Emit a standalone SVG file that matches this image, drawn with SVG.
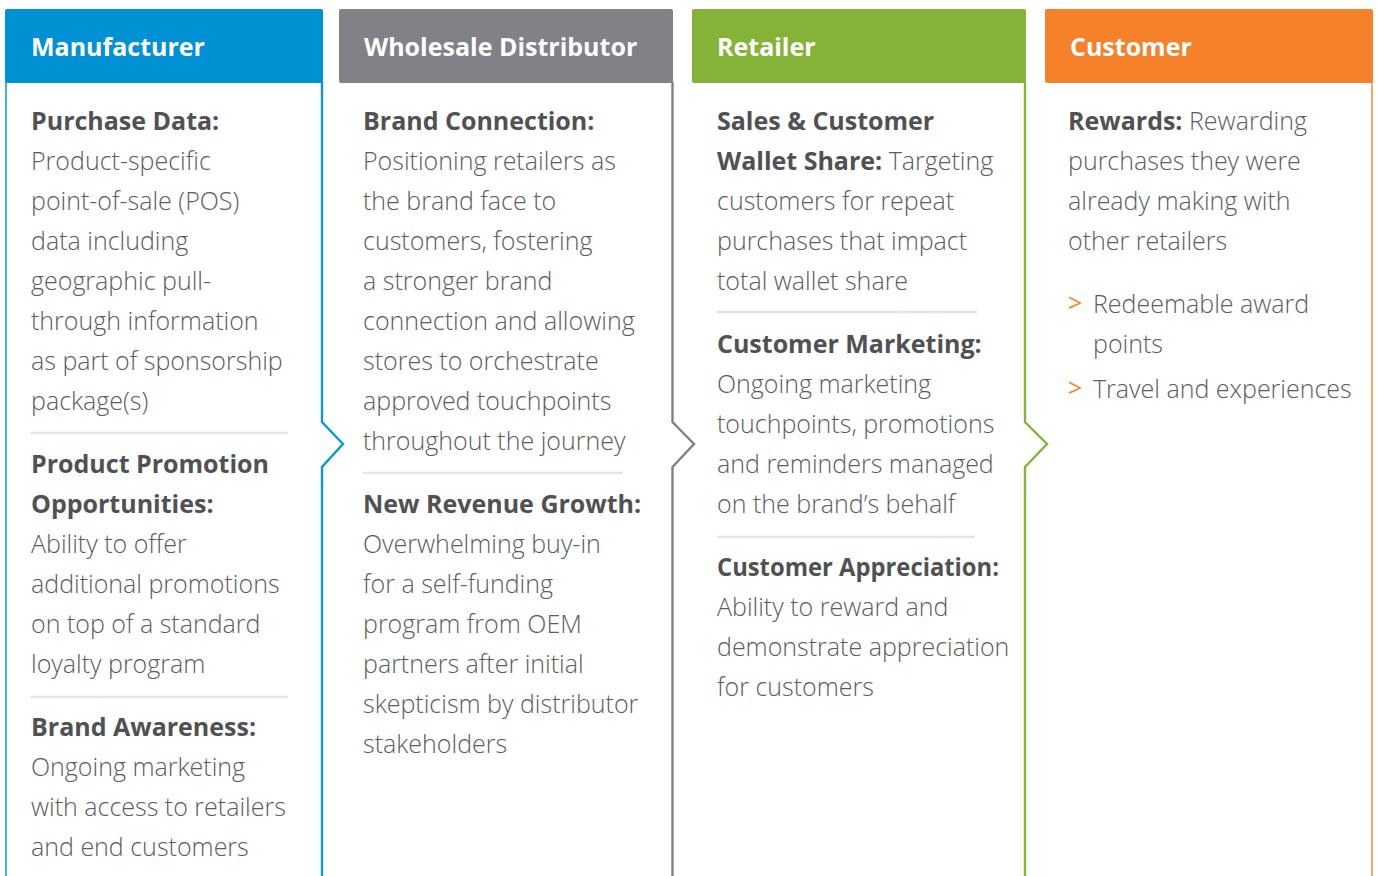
<svg xmlns="http://www.w3.org/2000/svg" width="1377" height="876" viewBox="0 0 1377 876">
<style>
text{font-family:"Open Sans","Noto Sans","Liberation Sans",sans-serif;font-size:25px;fill:#5b5c5e;font-weight:300}
.h{fill:#ffffff;font-weight:700;font-size:25px}
.b{font-weight:700;fill:#505153}
.sep{stroke:#e4e6e6;stroke-width:2.5}
.arr{fill:#f5812a;font-weight:400}
</style>
<rect width="1377" height="876" fill="#ffffff"/>
<g id="connectors" fill="none" stroke-width="2.4">
<line x1="6" y1="82" x2="6" y2="876" stroke="#4aaee0" stroke-width="2"/>
<polyline points="322,82 322,422 343,444 322,467 322,876" stroke="#0f95d6"/>
<polyline points="672.5,82 672.5,422 694,444 672.5,467 672.5,876" stroke="#818285"/>
<polyline points="1025,82 1025,422 1047,444 1025,467 1025,876" stroke="#86b43b"/>
<line x1="1372" y1="82" x2="1372" y2="876" stroke="#f8a868" stroke-width="2"/>
</g>
<g id="manufacturer">
<rect x="5" y="9" width="318" height="74" rx="2" fill="#0091d5"/>
<text class="h" x="31" y="56">Manufacturer</text>
<text x="31" y="130"><tspan class="b">Purchase Data:</tspan></text>
<text x="31" y="170">Product-specific</text>
<text x="31" y="210">point-of-sale (POS)</text>
<text x="31" y="250">data including</text>
<text x="31" y="290">geographic pull-</text>
<text x="31" y="330">through information</text>
<text x="31" y="370">as part of sponsorship</text>
<text x="31" y="410">package(s)</text>
<line class="sep" x1="31" y1="433" x2="288" y2="433"/>
<text x="31" y="473"><tspan class="b">Product Promotion</tspan></text>
<text x="31" y="513"><tspan class="b">Opportunities:</tspan></text>
<text x="31" y="553">Ability to offer</text>
<text x="31" y="593">additional promotions</text>
<text x="31" y="633">on top of a standard</text>
<text x="31" y="673">loyalty program</text>
<line class="sep" x1="31" y1="697" x2="288" y2="697"/>
<text x="31" y="736"><tspan class="b">Brand Awareness:</tspan></text>
<text x="31" y="776">Ongoing marketing</text>
<text x="31" y="816">with access to retailers</text>
<text x="31" y="856">and end customers</text>
</g>
<g id="wholesale-distributor">
<rect x="339" y="9" width="334" height="74" rx="2" fill="#818285"/>
<text class="h" x="364" y="56">Wholesale Distributor</text>
<text x="363" y="130"><tspan class="b">Brand Connection:</tspan></text>
<text x="363" y="170">Positioning retailers as</text>
<text x="363" y="210">the brand face to</text>
<text x="363" y="250">customers, fostering</text>
<text x="363" y="290">a stronger brand</text>
<text x="363" y="330">connection and allowing</text>
<text x="363" y="370">stores to orchestrate</text>
<text x="363" y="410">approved touchpoints</text>
<text x="363" y="450">throughout the journey</text>
<line class="sep" x1="363" y1="473" x2="623" y2="473"/>
<text x="363" y="513"><tspan class="b">New Revenue Growth:</tspan></text>
<text x="363" y="553">Overwhelming buy-in</text>
<text x="363" y="593">for a self-funding</text>
<text x="363" y="633">program from OEM</text>
<text x="363" y="673">partners after initial</text>
<text x="363" y="713">skepticism by distributor</text>
<text x="363" y="753">stakeholders</text>
</g>
<g id="retailer">
<rect x="692" y="9" width="334" height="74" rx="2" fill="#84b338"/>
<text class="h" x="717" y="56">Retailer</text>
<text x="717" y="130"><tspan class="b">Sales &amp; Customer</tspan></text>
<text x="717" y="170"><tspan class="b">Wallet Share:</tspan> Targeting</text>
<text x="717" y="210">customers for repeat</text>
<text x="717" y="250">purchases that impact</text>
<text x="717" y="290">total wallet share</text>
<line class="sep" x1="717" y1="312" x2="977" y2="312"/>
<text x="717" y="353"><tspan class="b">Customer Marketing:</tspan></text>
<text x="717" y="393">Ongoing marketing</text>
<text x="717" y="433">touchpoints, promotions</text>
<text x="717" y="473">and reminders managed</text>
<text x="717" y="513">on the brand’s behalf</text>
<line class="sep" x1="717" y1="537" x2="975" y2="537"/>
<text x="717" y="576" class="b" textLength="282" lengthAdjust="spacingAndGlyphs">Customer Appreciation:</text>
<text x="717" y="616">Ability to reward and</text>
<text x="717" y="656">demonstrate appreciation</text>
<text x="717" y="696">for customers</text>
</g>
<g id="customer">
<rect x="1045" y="9" width="328" height="74" rx="2" fill="#f5812a"/>
<text class="h" x="1070" y="56">Customer</text>
<text x="1068" y="130"><tspan class="b">Rewards:</tspan> Rewarding</text>
<text x="1068" y="170">purchases they were</text>
<text x="1068" y="210">already making with</text>
<text x="1068" y="250">other retailers</text>
<text class="arr" x="1068" y="312">&gt;</text>
<text x="1093" y="313">Redeemable award</text>
<text x="1093" y="353">points</text>
<text class="arr" x="1068" y="397">&gt;</text>
<text x="1093" y="398">Travel and experiences</text>
</g>
</svg>
